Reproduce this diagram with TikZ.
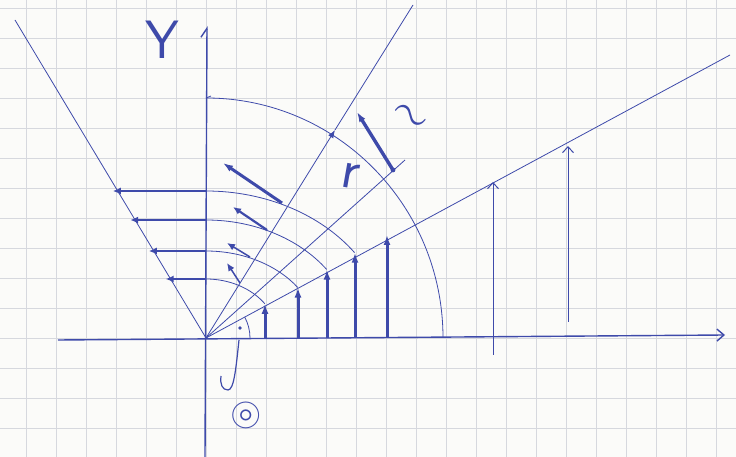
\documentclass[tikz,border=0pt]{standalone}
\usepackage{amsmath, amssymb}
\usepackage{tikz}
\usetikzlibrary{arrows.meta}
\definecolor{ink}{RGB}{62,74,170}
\definecolor{paper}{RGB}{251,251,249}
\definecolor{gridline}{RGB}{214,216,222}

\begin{document}
\begin{tikzpicture}[x=1pt, y=1pt,
    pen/.style={draw=ink, line width=0.8pt},
    axis/.style={draw=ink, line width=1.4pt},
    fat/.style={draw=ink, line width=3pt, -{Latex[length=10pt, width=7pt]}},
    mid/.style={draw=ink, line width=2.2pt, -{Latex[length=8pt, width=7pt]}},
    barb/.style={draw=ink, line width=1pt, -{Straight Barb[length=6pt, width=11pt]}},
    every node/.style={text=ink, inner sep=0pt}]
  \fill[paper] (-206,-119) rectangle (530,338);
  \useasboundingbox (-206,-119) rectangle (530,338);
  % squared paper
  \draw[gridline, line width=0.8pt] (-206,-119) grid[step=30] (530,338);

  \coordinate (O) at (0,0);
  \coordinate (xend) at (519,3);
  \coordinate (yend) at (1,312);
  \draw[axis, -{Straight Barb[length=7pt, width=12pt]}] (-148,-2) -- (xend);
  \draw[axis, -{Straight Barb[left, length=9pt, width=12pt]}] (-1,-119) -- (yend);
  \node[font=\sffamily\fontsize{54}{54}\selectfont] (ylab) at (-44,298) {Y};

  % rays from the origin
  \coordinate (left) at (-191,318);
  \coordinate (cross) at (129,208);
  \coordinate (up) at (207,333);
  \coordinate (diag) at (199,178);
  \coordinate (low) at (524,283);
  \draw[pen] (O) -- (left);
  \draw[pen, -{Latex[length=8pt, width=6pt]}] (O) -- (cross);
  \draw[pen] (cross) -- (up);
  \draw[pen] (O) -- (diag);
  \draw[pen] (O) -- (low);

  % big quarter arc
  \draw[pen] (0,240) -- (5,242);
  \draw[pen] (0,240) arc[start angle=90, end angle=0, x radius=237, y radius=240];

  % inner arcs with horizontal and vertical arrows
  \foreach \h/\x in {147/149, 118/121, 87/92, 59/59} {
    \draw[pen] (0,\h) arc[start angle=90, end angle=35.5, x radius=1.225*\x, y radius=\h];
    \draw[mid] (0,\h) -- (-0.6*\h-5,\h);
    \draw[fat] (\x,0) -- (\x,0.58*\h);
  }
  \draw[fat] (181,0) -- (181,103);

  % tangent arrows
  \draw[fat] (76,135) -- (17,175);
  \draw[mid] (61,108) -- (27,131);
  \draw[mid, line width=1.5pt] (44,81) -- (21,95);
  \draw[mid, line width=1.5pt] (34,55) -- (21,75);

  % tall arrows up to the low ray
  \draw[barb] (287,-17) -- (287,156);
  \draw[barb] (362,16) -- (362,192);

  % r arrow
  \fill[ink] (187,168) circle (2.4);
  \draw[fat, line width=3.4pt] (187,168) -- (151,226);
  \node[font=\sffamily\fontsize{56}{56}\selectfont, rotate=-10] (rlab) at (144,162) {r};
  \node[font=\Large, scale=3.2, rotate=-35] (tlab) at (203,220) {$\sim$};

  % angle mark
  \draw[pen] (44,0) arc[start angle=0, end angle=28, radius=44];
  \fill[ink] (34,10) circle (1.8);
  \draw[pen, line width=1.2pt] (33,-2) .. controls (30,-30) and (28,-52) .. (22,-52)
    .. controls (16,-52) and (14,-46) .. (15,-38);
  \node[font=\Large, scale=2.8] (theta) at (40,-77) {$\circledcirc$};
\end{tikzpicture}
\end{document}
